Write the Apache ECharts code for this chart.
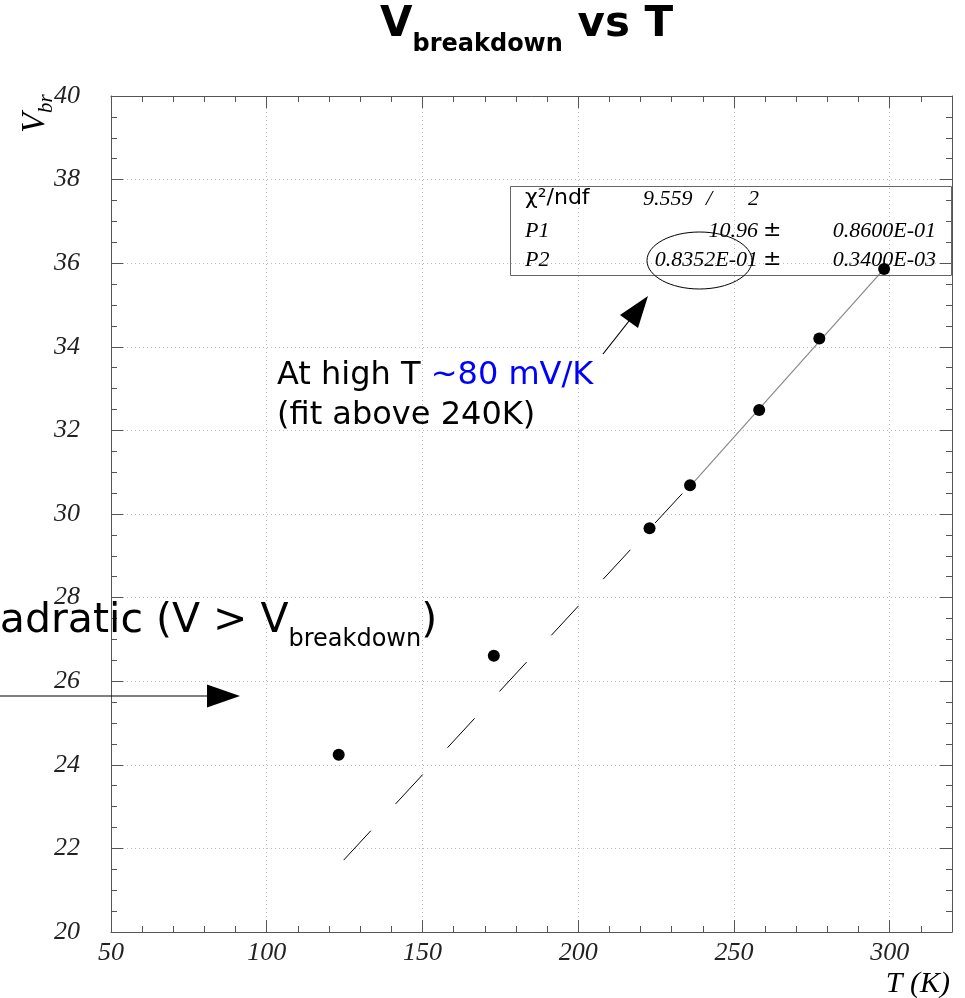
<!DOCTYPE html>
<html>
<head>
<meta charset="utf-8">
<title>Vbreakdown vs T</title>
<script src="https://cdn.jsdelivr.net/npm/echarts@6/dist/echarts.min.js"></script>
<style>
  html, body { margin: 0; padding: 0; background: #fff; }
  #main { width: 965px; height: 998px; }
</style>
</head>
<body>
<div id="main"></div>
<script>
// measured points (T in K, breakdown voltage in V)
var tempK = [123.1, 172.9, 222.9, 235.9, 258.1, 277.4, 298.2];
var vBreak = [24.24, 26.61, 29.66, 30.69, 32.49, 34.20, 35.86];

// linear fit  V = P1 + P2*T  (fit above 240K)
var fitPar = [10.96, 0.08352];
var fitRangeT = [235.9, 298.2];

// hand drawn dashed extrapolation
var guideT = [124.7, 235.9];
var guideV = [21.72, 30.69];

// stat box rows
var statRows = [
    ['P1', '10.96', '0.8600E-01'],
    ['P2', '0.8352E-01', '0.3400E-03']
];
var chiText = ['9.559', '/', '2'];

var serif = '"Liberation Serif", "Times New Roman", serif';
var sans = '"DejaVu Sans", sans-serif';
var axisCol = '#555';

var main = echarts.init(document.getElementById('main'));

var meas = document.createElement('canvas').getContext('2d');

// lay out pieces of text on one baseline, each piece can be shifted (subscripts)
function run(x, base, parts, out) {
    parts.forEach(function (p) {
        var font = (p.style || 'normal') + ' ' + (p.weight || 'normal') + ' ' + p.size + 'px ' + (p.family || sans);
        meas.font = font;
        out.push({
            type: 'text', x: x, y: base + (p.dy || 0) - 0.34 * p.size, z: 100,
            style: {
                text: p.text, font: font, fill: p.fill || '#000',
                textAlign: 'left', textVerticalAlign: 'middle',
                align: 'left', verticalAlign: 'middle'
            }
        });
        x += meas.measureText(p.text).width;
    });
    return x;
}

function txt(x, base, text, size, family, style, align, fill) {
    var font = (style || 'normal') + ' ' + size + 'px ' + family;
    var k = family === serif ? 0.3 : 0.34;
    return {
        type: 'text', x: x, y: base - k * size, z: 100,
        style: {
            text: text, font: font, fill: fill || '#000',
            textAlign: align || 'left', textVerticalAlign: 'middle',
            align: align || 'left', verticalAlign: 'middle'
        }
    };
}

var g = [];

// title
run(380, 39, [
    {text: 'V', size: 42, weight: 'bold'},
    {text: 'breakdown', size: 24, weight: 'bold', dy: 14},
    {text: ' vs T', size: 42, weight: 'bold'}
], g);

// y axis title, rotated
g.push({
    type: 'group', x: 45, y: 133, rotation: Math.PI / 2, z: 100,
    children: [
        txt(0, 0, 'V', 33, serif, 'italic'),
        txt(20, 8, 'br', 21, serif, 'italic')
    ]
});

// x axis title
g.push(txt(950, 993, 'T (K)', 30, serif, 'italic', 'right'));

// stat box
g.push({type: 'rect', z: 90, shape: {x: 510.5, y: 186.5, width: 441, height: 89},
    style: {fill: 'none', stroke: '#666', lineWidth: 1}});
g.push(txt(525, 206, 'χ²/ndf', 22, sans));
g.push(txt(643, 206, chiText[0], 22, serif, 'italic'));
g.push(txt(706, 206, chiText[1], 22, serif, 'italic'));
g.push(txt(748, 206, chiText[2], 22, serif, 'italic'));
statRows.forEach(function (r, i) {
    var b = i === 0 ? 238 : 267;
    g.push(txt(525, b, r[0], 22, serif, 'italic'));
    g.push(txt(758, b, r[1], 22, serif, 'italic', 'right'));
    g.push(txt(763, b, '±', 22, sans));
    g.push(txt(936, b, r[2], 22, serif, 'italic', 'right'));
});

// ellipse round P2
g.push({type: 'ellipse', z: 95, shape: {cx: 699.5, cy: 260.5, rx: 52.5, ry: 28.5},
    style: {fill: 'none', stroke: '#000', lineWidth: 1}});

// arrow to ellipse
g.push({type: 'line', z: 95, shape: {x1: 603, y1: 354, x2: 629, y2: 321},
    style: {stroke: '#000', lineWidth: 1.2}});
g.push({type: 'polygon', z: 95, shape: {points: [[648, 296], [620, 315], [638, 328]]},
    style: {fill: '#000'}});

// annotation
run(277, 387, [
    {text: 'At high T ', size: 32},
    {text: '~80 mV/K', size: 32, fill: '#0000ff'}
], g);
g.push(txt(277, 427, '(fit above 240K)', 32, sans));

// left annotation, runs off the page edge
meas.font = '41px ' + sans;
var qx = 156 - meas.measureText('Quadratic ').width;
run(qx, 635, [
    {text: 'Quadratic (V > V', size: 41},
    {text: 'breakdown', size: 24, dy: 13},
    {text: ')', size: 41}
], g);
g.push({type: 'line', z: 95, shape: {x1: 0, y1: 696, x2: 208, y2: 696},
    style: {stroke: '#000', lineWidth: 1.2}});
g.push({type: 'polygon', z: 95, shape: {points: [[240, 696], [207, 684.5], [207, 707.5]]},
    style: {fill: '#000'}});

function xAx(pos, interval, len, major) {
    return {
        type: 'value', position: pos, min: 50, max: 320, interval: interval,
        axisLine: {show: major, onZero: false, lineStyle: {color: axisCol, width: 1}},
        axisTick: {show: true, inside: true, length: len, lineStyle: {color: axisCol}},
        axisLabel: {
            show: major && pos === 'bottom', showMaxLabel: false, margin: 8,
            fontFamily: serif, fontStyle: 'italic', fontSize: 26, color: '#222'
        },
        splitLine: {show: major && pos === 'bottom', lineStyle: {color: '#bbb', type: [1, 3]}}
    };
}
function yAx(pos, interval, len, major) {
    return {
        type: 'value', position: pos, min: 20, max: 40, interval: interval,
        axisLine: {show: major, onZero: false, lineStyle: {color: axisCol, width: 1}},
        axisTick: {show: true, inside: true, length: len, lineStyle: {color: axisCol}},
        axisLabel: {
            show: major && pos === 'left', margin: 31,
            fontFamily: serif, fontStyle: 'italic', fontSize: 26, color: '#222'
        },
        splitLine: {show: major && pos === 'left', lineStyle: {color: '#bbb', type: [1, 3]}}
    };
}

var option = {
    animation: false,
    backgroundColor: '#fff',
    grid: {left: 111, right: 13, top: 96, bottom: 66, containLabel: false},
    xAxis: [xAx('bottom', 50, 12, true), xAx('bottom', 10, 6, false),
            xAx('top', 50, 12, true), xAx('top', 10, 6, false)],
    yAxis: [yAx('left', 2, 12, true), yAx('left', 0.5, 6, false),
            yAx('right', 2, 12, true), yAx('right', 0.5, 6, false)],
    series: [
        {
            name: 'guide', type: 'line', xAxisIndex: 0, yAxisIndex: 0,
            data: guideT.map(function (t, i) { return [t, guideV[i]]; }),
            symbol: 'none', z: 2,
            lineStyle: {color: '#000', width: 1, type: [40, 36.5]}
        },
        {
            name: 'fit', type: 'line', xAxisIndex: 0, yAxisIndex: 0,
            data: fitRangeT.map(function (t) { return [t, fitPar[0] + fitPar[1] * t]; }),
            symbol: 'none', z: 3,
            lineStyle: {color: '#888', width: 1.2}
        },
        {
            name: 'data', type: 'scatter', xAxisIndex: 0, yAxisIndex: 0,
            data: tempK.map(function (t, i) { return [t, vBreak[i]]; }),
            symbol: 'circle', symbolSize: 12, z: 4,
            itemStyle: {color: '#000', opacity: 1}
        }
    ],
    graphic: g
};

main.setOption(option);
</script>
</body>
</html>
